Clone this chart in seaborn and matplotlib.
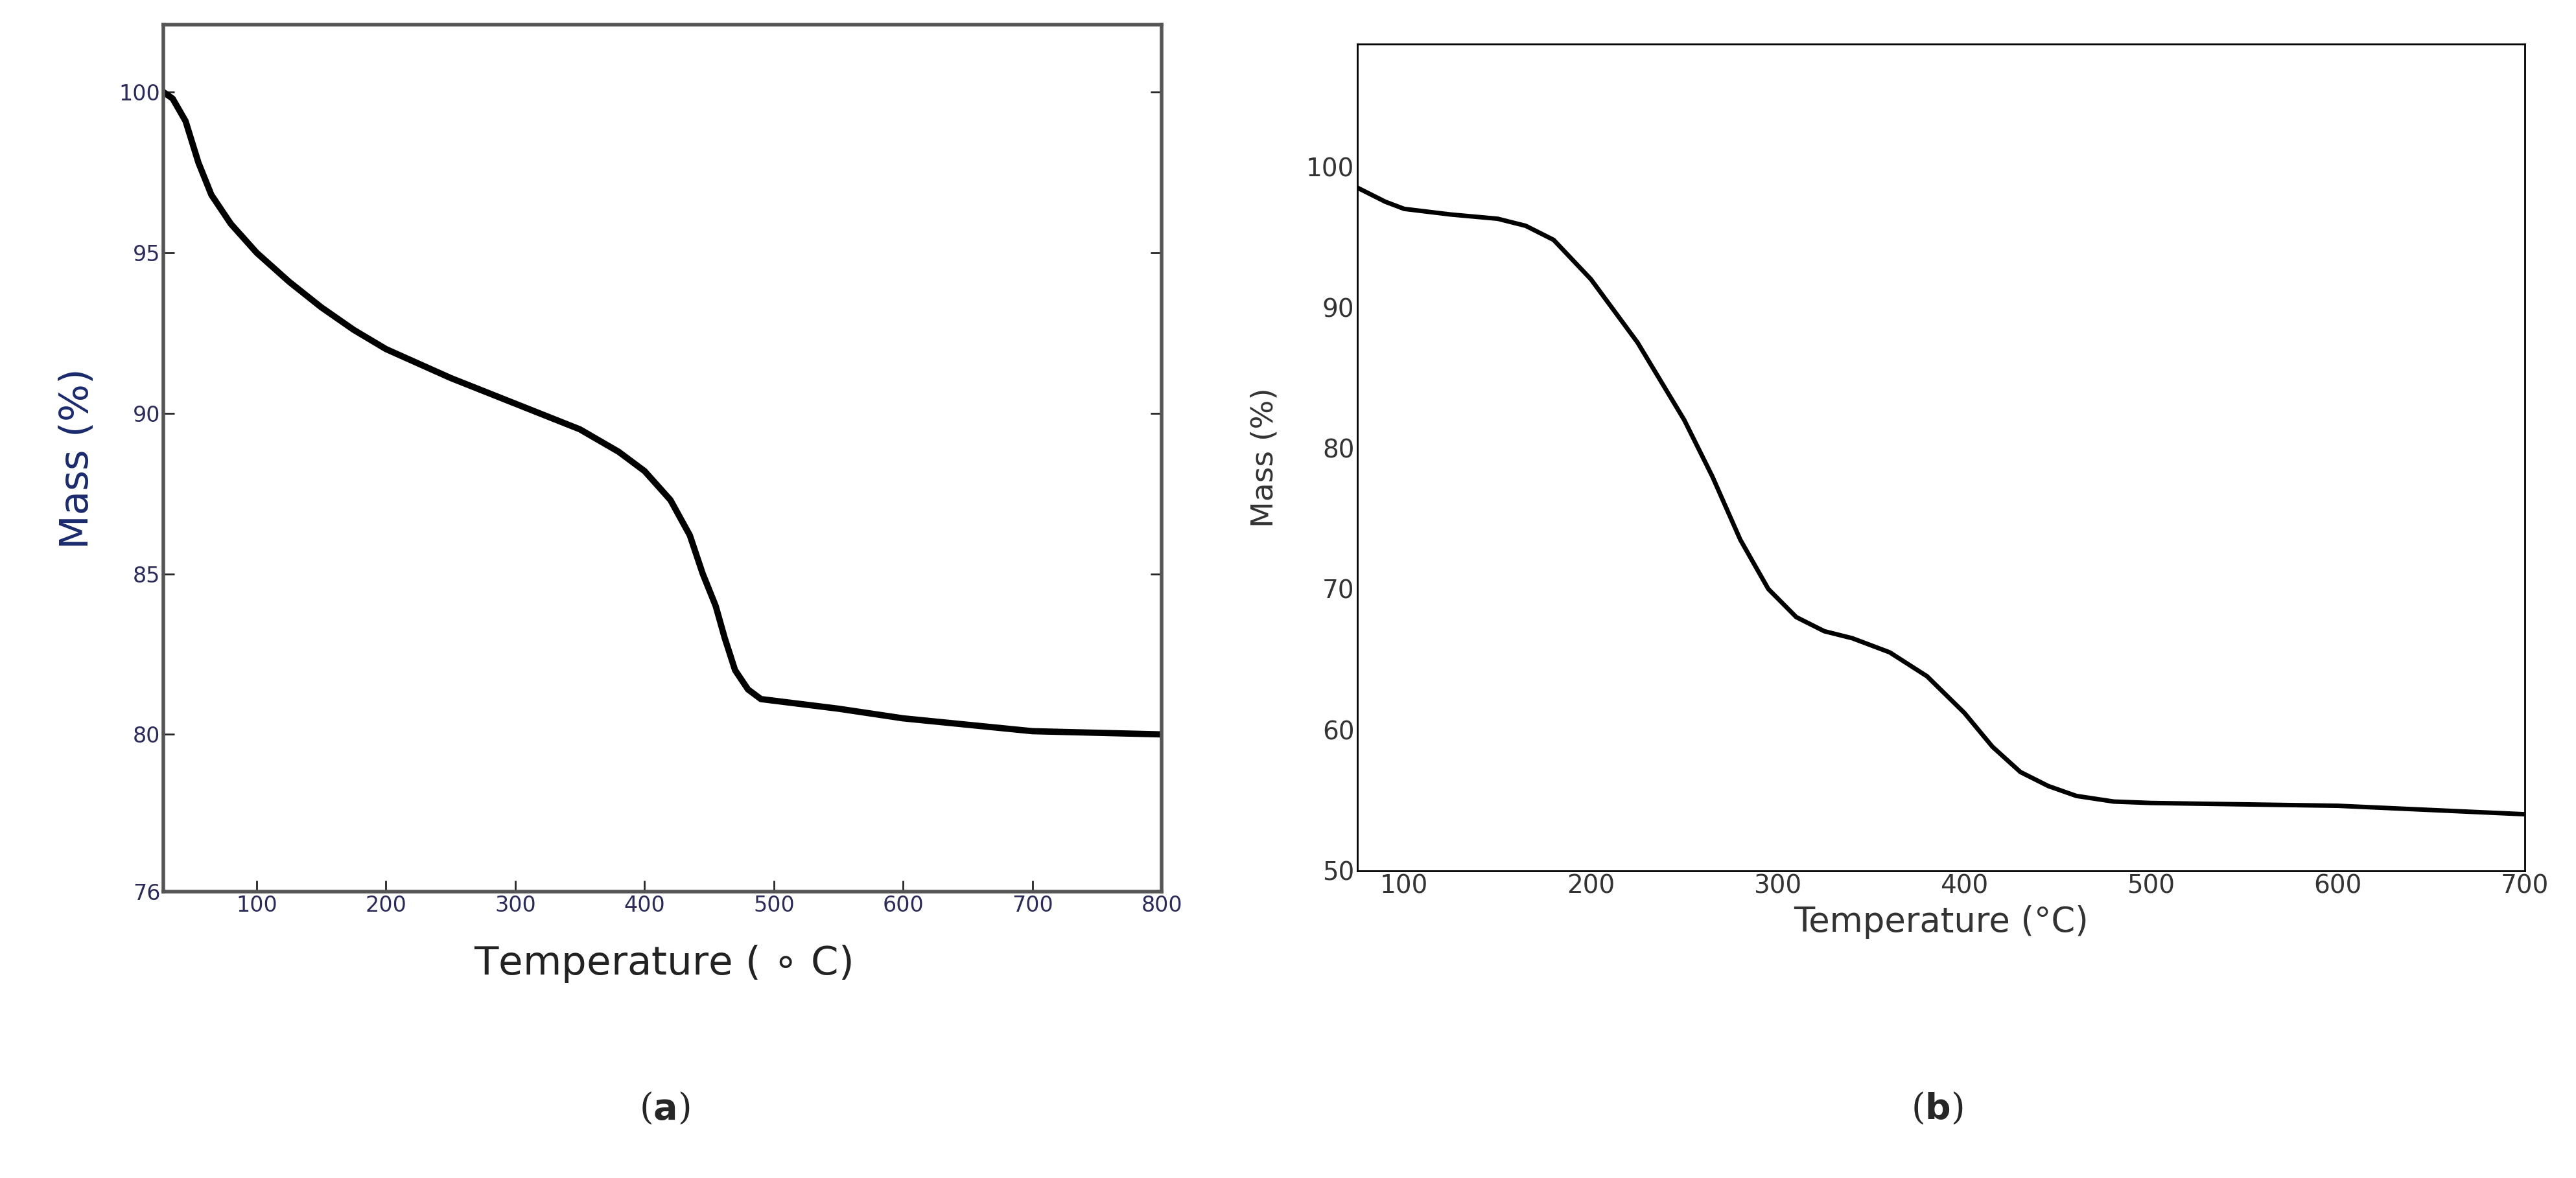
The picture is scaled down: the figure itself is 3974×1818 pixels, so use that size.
import numpy as np
import pandas as pd
import matplotlib
matplotlib.use("Agg")
import matplotlib.pyplot as plt
import seaborn as sns

# (a) TGA curve
temp_a = [28, 35, 45, 55, 65, 80, 100, 125, 150, 175, 200, 250, 300, 350, 380, 400, 420, 435, 445, 455, 462, 470, 480, 490, 550, 600, 700, 800]
mass_a = [100, 99.8, 99.1, 97.8, 96.8, 95.9, 95.0, 94.1, 93.3, 92.6, 92.0, 91.1, 90.3, 89.5, 88.8, 88.2, 87.3, 86.2, 85.0, 84.0, 83.0, 82.0, 81.4, 81.1, 80.8, 80.5, 80.1, 80.0]
# (b) TGA curve
temp_b = [75, 90, 100, 125, 150, 165, 180, 200, 225, 250, 265, 280, 295, 310, 325, 340, 360, 380, 400, 415, 430, 445, 460, 480, 500, 600, 700]
mass_b = [98.5, 97.5, 97.0, 96.6, 96.3, 95.8, 94.8, 92.0, 87.5, 82.0, 78.0, 73.5, 70.0, 68.0, 67.0, 66.5, 65.5, 63.8, 61.2, 58.8, 57.0, 56.0, 55.3, 54.9, 54.8, 54.6, 54.0]

sns.set_style("white")
plt.rcParams['font.family'] = ['DejaVu Sans']

fig = plt.figure(figsize=(39.74, 18.18), dpi=100)
ax1 = fig.add_axes([0.0635, 0.243, 0.3875, 0.736])
ax2 = fig.add_axes([0.527, 0.261, 0.453, 0.7015])

df_a = pd.DataFrame({'t': temp_a, 'm': mass_a})
sns.lineplot(data=df_a, x='t', y='m', ax=ax1, color='black', linewidth=7)
ax1.set_xlim(28, 800)
ax1.set_ylim(75.1, 102.1)
ax1.set_xticks(range(100, 801, 100))
ax1.set_yticks([75.1, 80, 85, 90, 95, 100])
ax1.set_yticklabels(['76', '80', '85', '90', '95', '100'])
ax1.tick_params(direction='in', length=12, width=2, labelsize=24, labelcolor='#2b2b5a',
                right=True, top=False, bottom=True, left=True)
for s in ax1.spines.values():
    s.set_color('#555555'); s.set_linewidth(4)
ax1.set_xlabel('Temperature ( $\\circ$ C)', fontsize=44, color='#222222', labelpad=30)
ax1.set_ylabel('Mass (%)', fontsize=44, color='#1a2a6c', labelpad=25)

df_b = pd.DataFrame({'t': temp_b, 'm': mass_b})
sns.lineplot(data=df_b, x='t', y='m', ax=ax2, color='black', linewidth=5)
ax2.set_xlim(75, 700)
ax2.set_ylim(50, 108.7)
ax2.set_xticks(range(100, 701, 100))
ax2.set_yticks(range(50, 101, 10))
ax2.tick_params(direction='in', length=8, width=1.5, labelsize=28, labelcolor='#333333')
for s in ax2.spines.values():
    s.set_color('black'); s.set_linewidth(2)
ax2.set_xlabel('Temperature (°C)', fontsize=38, color='#333333', labelpad=8)
ax2.set_ylabel('Mass (%)', fontsize=34, color='#333333', labelpad=30)

fig.text(0.258, 0.05, r'($\mathbf{a}$)', fontsize=40, ha='center', family='DejaVu Serif')
fig.text(0.752, 0.05, r'($\mathbf{b}$)', fontsize=40, ha='center', family='DejaVu Serif')

fig.savefig('out.png', dpi=100)
